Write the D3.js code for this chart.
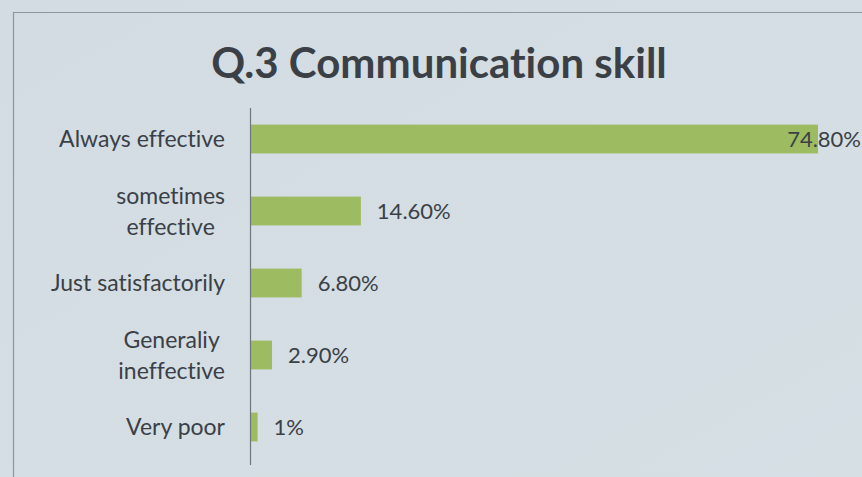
<!DOCTYPE html>
<html><head><meta charset="utf-8">
<script src="https://cdn.jsdelivr.net/npm/d3@7"></script>
<style>html,body{margin:0;padding:0;background:#d4dde3;overflow:hidden} text{font-variant-ligatures:none;font-feature-settings:"liga" 0,"clig" 0}</style>
</head><body><svg id="c" width="862" height="477"></svg>
<script>
const categories = [["Always effective"], ["sometimes", "effective"], ["Just satisfactorily"], ["Generaliy", "ineffective"], ["Very poor"]];
const values = [74.8, 14.6, 6.8, 2.9, 1];
const valueLabels = ["74.80%", "14.60%", "6.80%", "2.90%", "1%"];
const title = "Q.3 Communication skill";

const W = 862, H = 477;
const svg = d3.select("#c");
const defs = svg.append("defs");
const g0 = defs.append("linearGradient").attr("id","bg").attr("x1","0").attr("y1","0").attr("x2","1").attr("y2","1");
g0.append("stop").attr("offset","0").attr("stop-color","#d2dce2");
g0.append("stop").attr("offset","1").attr("stop-color","#d6dfe4");
svg.append("rect").attr("width",W).attr("height",H).attr("fill","url(#bg)");
// slide frame
svg.append("path").attr("d","M13.5,477 L13.5,12.5 L862,12.5").attr("fill","none").attr("stroke","#8e969c").attr("stroke-width",1.2);

const textCol = "#3b4047";
const font = "Lato, 'Open Sans', sans-serif";

svg.append("text").attr("x",439).attr("y",78).attr("text-anchor","middle")
  .attr("font-family",font).attr("font-weight","bold").attr("font-size",42)
  .attr("fill",textCol).text(title);

const x = d3.scaleLinear().domain([0, 74.8]).range([250, 818]);
const y = d3.scaleBand().domain(d3.range(values.length)).range([103, 463]).paddingInner(0.6).paddingOuter(0.3);

svg.append("g").selectAll("rect").data(values).join("rect")
  .attr("x", x(0)).attr("y", (d,i)=>y(i)).attr("width", d=>x(d)-x(0)).attr("height", y.bandwidth())
  .attr("fill", "#9dbb61");

// axis line
svg.append("line").attr("x1",250.5).attr("x2",250.5).attr("y1",108).attr("y2",465).attr("stroke","#6f767c").attr("stroke-width",1.2);

// category labels
const lab = svg.append("g");
categories.forEach((lines,i)=>{
  const cy = y(i) + y.bandwidth()/2;
  const grp = lab.append("g");
  const lh = 31;
  const ts = lines.map((t,k)=> grp.append("text")
    .attr("y", cy + (k - (lines.length-1)/2)*lh).attr("dy","0.35em")
    .attr("font-family",font).attr("font-size",23).attr("fill",textCol).text(t));
  const widths = ts.map(t=>t.node().getComputedTextLength());
  const maxW = d3.max(widths);
  const right = 225;
  ts.forEach((t,k)=> t.attr("x", right - maxW/2).attr("text-anchor","middle"));
});

// value labels
svg.append("g").selectAll("text").data(values).join("text")
  .attr("font-family",font).attr("font-size",22).attr("fill",textCol)
  .attr("y",(d,i)=>y(i)+y.bandwidth()/2).attr("dy","0.35em")
  .text((d,i)=>valueLabels[i])
  .each(function(d){
    const w = this.getComputedTextLength();
    let px = x(d) + 16;
    if (px + w > W - 1) px = W - 1 - w;
    d3.select(this).attr("x", px);
  });
</script></body></html>
